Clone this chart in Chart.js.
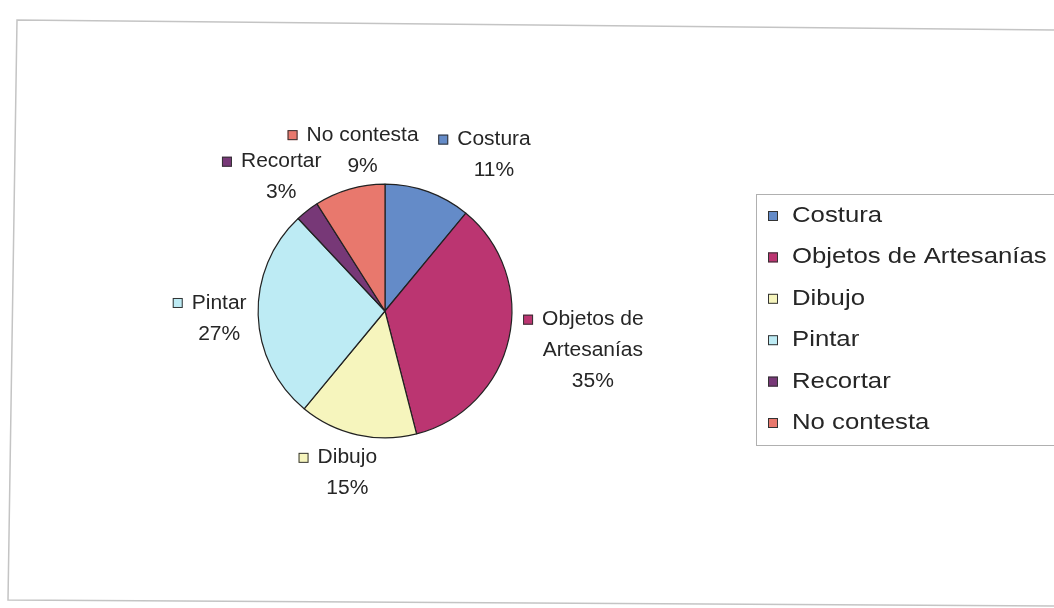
<!DOCTYPE html>
<html><head><meta charset="utf-8">
<script src="https://cdn.jsdelivr.net/npm/chart.js@4"></script>
<style>html,body{margin:0;padding:0;background:#fff;overflow:hidden}#wrap{width:1054px;height:608px;position:relative}</style>
</head><body><div id="wrap"><canvas id="c" width="1054" height="608"></canvas></div>
<script>
// ---- data ----
const categories = ['Costura', 'Objetos de Artesanías', 'Dibujo', 'Pintar', 'Recortar', 'No contesta'];
const percentages = [11, 35, 15, 27, 3, 9];
const pctLabels = ['11%', '35%', '15%', '27%', '3%', '9%'];
const labelLines = [['Costura'], ['Objetos de', 'Artesanías'], ['Dibujo'], ['Pintar'], ['Recortar'], ['No contesta']];

// ---- styles ----
const sliceColors = ['#648bc8', '#bb3571', '#f6f5bd', '#bdebf4', '#773877', '#e8786d'];
// label offsets (text block) relative to the rim point at each slice's mid-angle
const labelOffsets = [[66, -52], [84, -19], [-10, 23], [-39, -12], [-26, -49], [13, -54]];
const FONT = '"Liberation Sans", Arial, sans-serif';
const textColor = '#262626';

function scaledText(ctx, t, x, y, sx, align) {
  ctx.save();
  ctx.translate(x, y);
  ctx.scale(sx, 1);
  ctx.textAlign = align;
  ctx.textBaseline = 'middle';
  ctx.fillText(t, 0, 0);
  ctx.restore();
}

const framePlugin = {
  id: 'frame',
  beforeDraw(chart) {
    const ctx = chart.ctx;
    ctx.save();
    ctx.fillStyle = '#ffffff';
    ctx.fillRect(0, 0, chart.width, chart.height);
    ctx.strokeStyle = '#c4c4c4';
    ctx.lineWidth = 1.5;
    ctx.beginPath();
    ctx.moveTo(1054, 30); ctx.lineTo(17, 20); ctx.lineTo(8, 600); ctx.lineTo(1054, 606);
    ctx.stroke();
    ctx.restore();
  }
};

const labelPlugin = {
  id: 'outLabels',
  afterDatasetsDraw(chart) {
    const ctx = chart.ctx;
    const meta = chart.getDatasetMeta(0);
    const sx = 1.05, lh = 31;
    ctx.save();
    ctx.font = '20px ' + FONT;
    meta.data.forEach((arc, i) => {
      const p = arc.getProps(['x', 'y', 'startAngle', 'endAngle', 'outerRadius'], true);
      const mid = (p.startAngle + p.endAngle) / 2;
      const rx = p.x + Math.cos(mid) * p.outerRadius;
      const ry = p.y + Math.sin(mid) * p.outerRadius;
      const tx = rx + labelOffsets[i][0];
      const ty = ry + labelOffsets[i][1];
      const lines = labelLines[i].concat([pctLabels[i]]);
      ctx.fillStyle = textColor;
      lines.forEach((t, j) => scaledText(ctx, t, tx, ty + j * lh, sx, 'center'));
      const w = ctx.measureText(lines[0]).width * sx;
      const mx = tx - w / 2 - 9 - 10;
      ctx.fillStyle = sliceColors[i];
      ctx.fillRect(mx, ty - 5, 10, 10);
      ctx.strokeStyle = '#333';
      ctx.lineWidth = 1;
      ctx.strokeRect(mx + 0.5, ty - 4.5, 9, 9);
    });
    ctx.restore();
  }
};

const legendPlugin = {
  id: 'boxLegend',
  afterDraw(chart) {
    const ctx = chart.ctx;
    ctx.save();
    ctx.strokeStyle = '#b0b0b0';
    ctx.lineWidth = 1;
    ctx.strokeRect(756.5, 194.5, 320, 251);
    ctx.font = '22px ' + FONT;
    const labels = chart.data.labels;
    labels.forEach((lab, i) => {
      const y = 216 + i * 41.4;
      ctx.fillStyle = sliceColors[i];
      ctx.fillRect(768, y - 5, 10, 10);
      ctx.strokeStyle = '#333';
      ctx.strokeRect(768.5, y - 4.5, 9, 9);
      ctx.fillStyle = textColor;
      scaledText(ctx, lab, 792, y, 1.17, 'left');
    });
    ctx.restore();
  }
};

new Chart(document.getElementById('c'), {
  type: 'pie',
  data: {
    labels: categories,
    datasets: [{
      data: percentages,
      backgroundColor: sliceColors,
      borderColor: '#222222',
      borderWidth: 1.2
    }]
  },
  options: {
    responsive: false,
    animation: false,
    devicePixelRatio: 1,
    layout: { padding: { left: 257.5, right: 541.5, top: 183.5, bottom: 169.5 } },
    plugins: { legend: { display: false }, tooltip: { enabled: false } }
  },
  plugins: [framePlugin, labelPlugin, legendPlugin]
});
</script>
</body></html>
